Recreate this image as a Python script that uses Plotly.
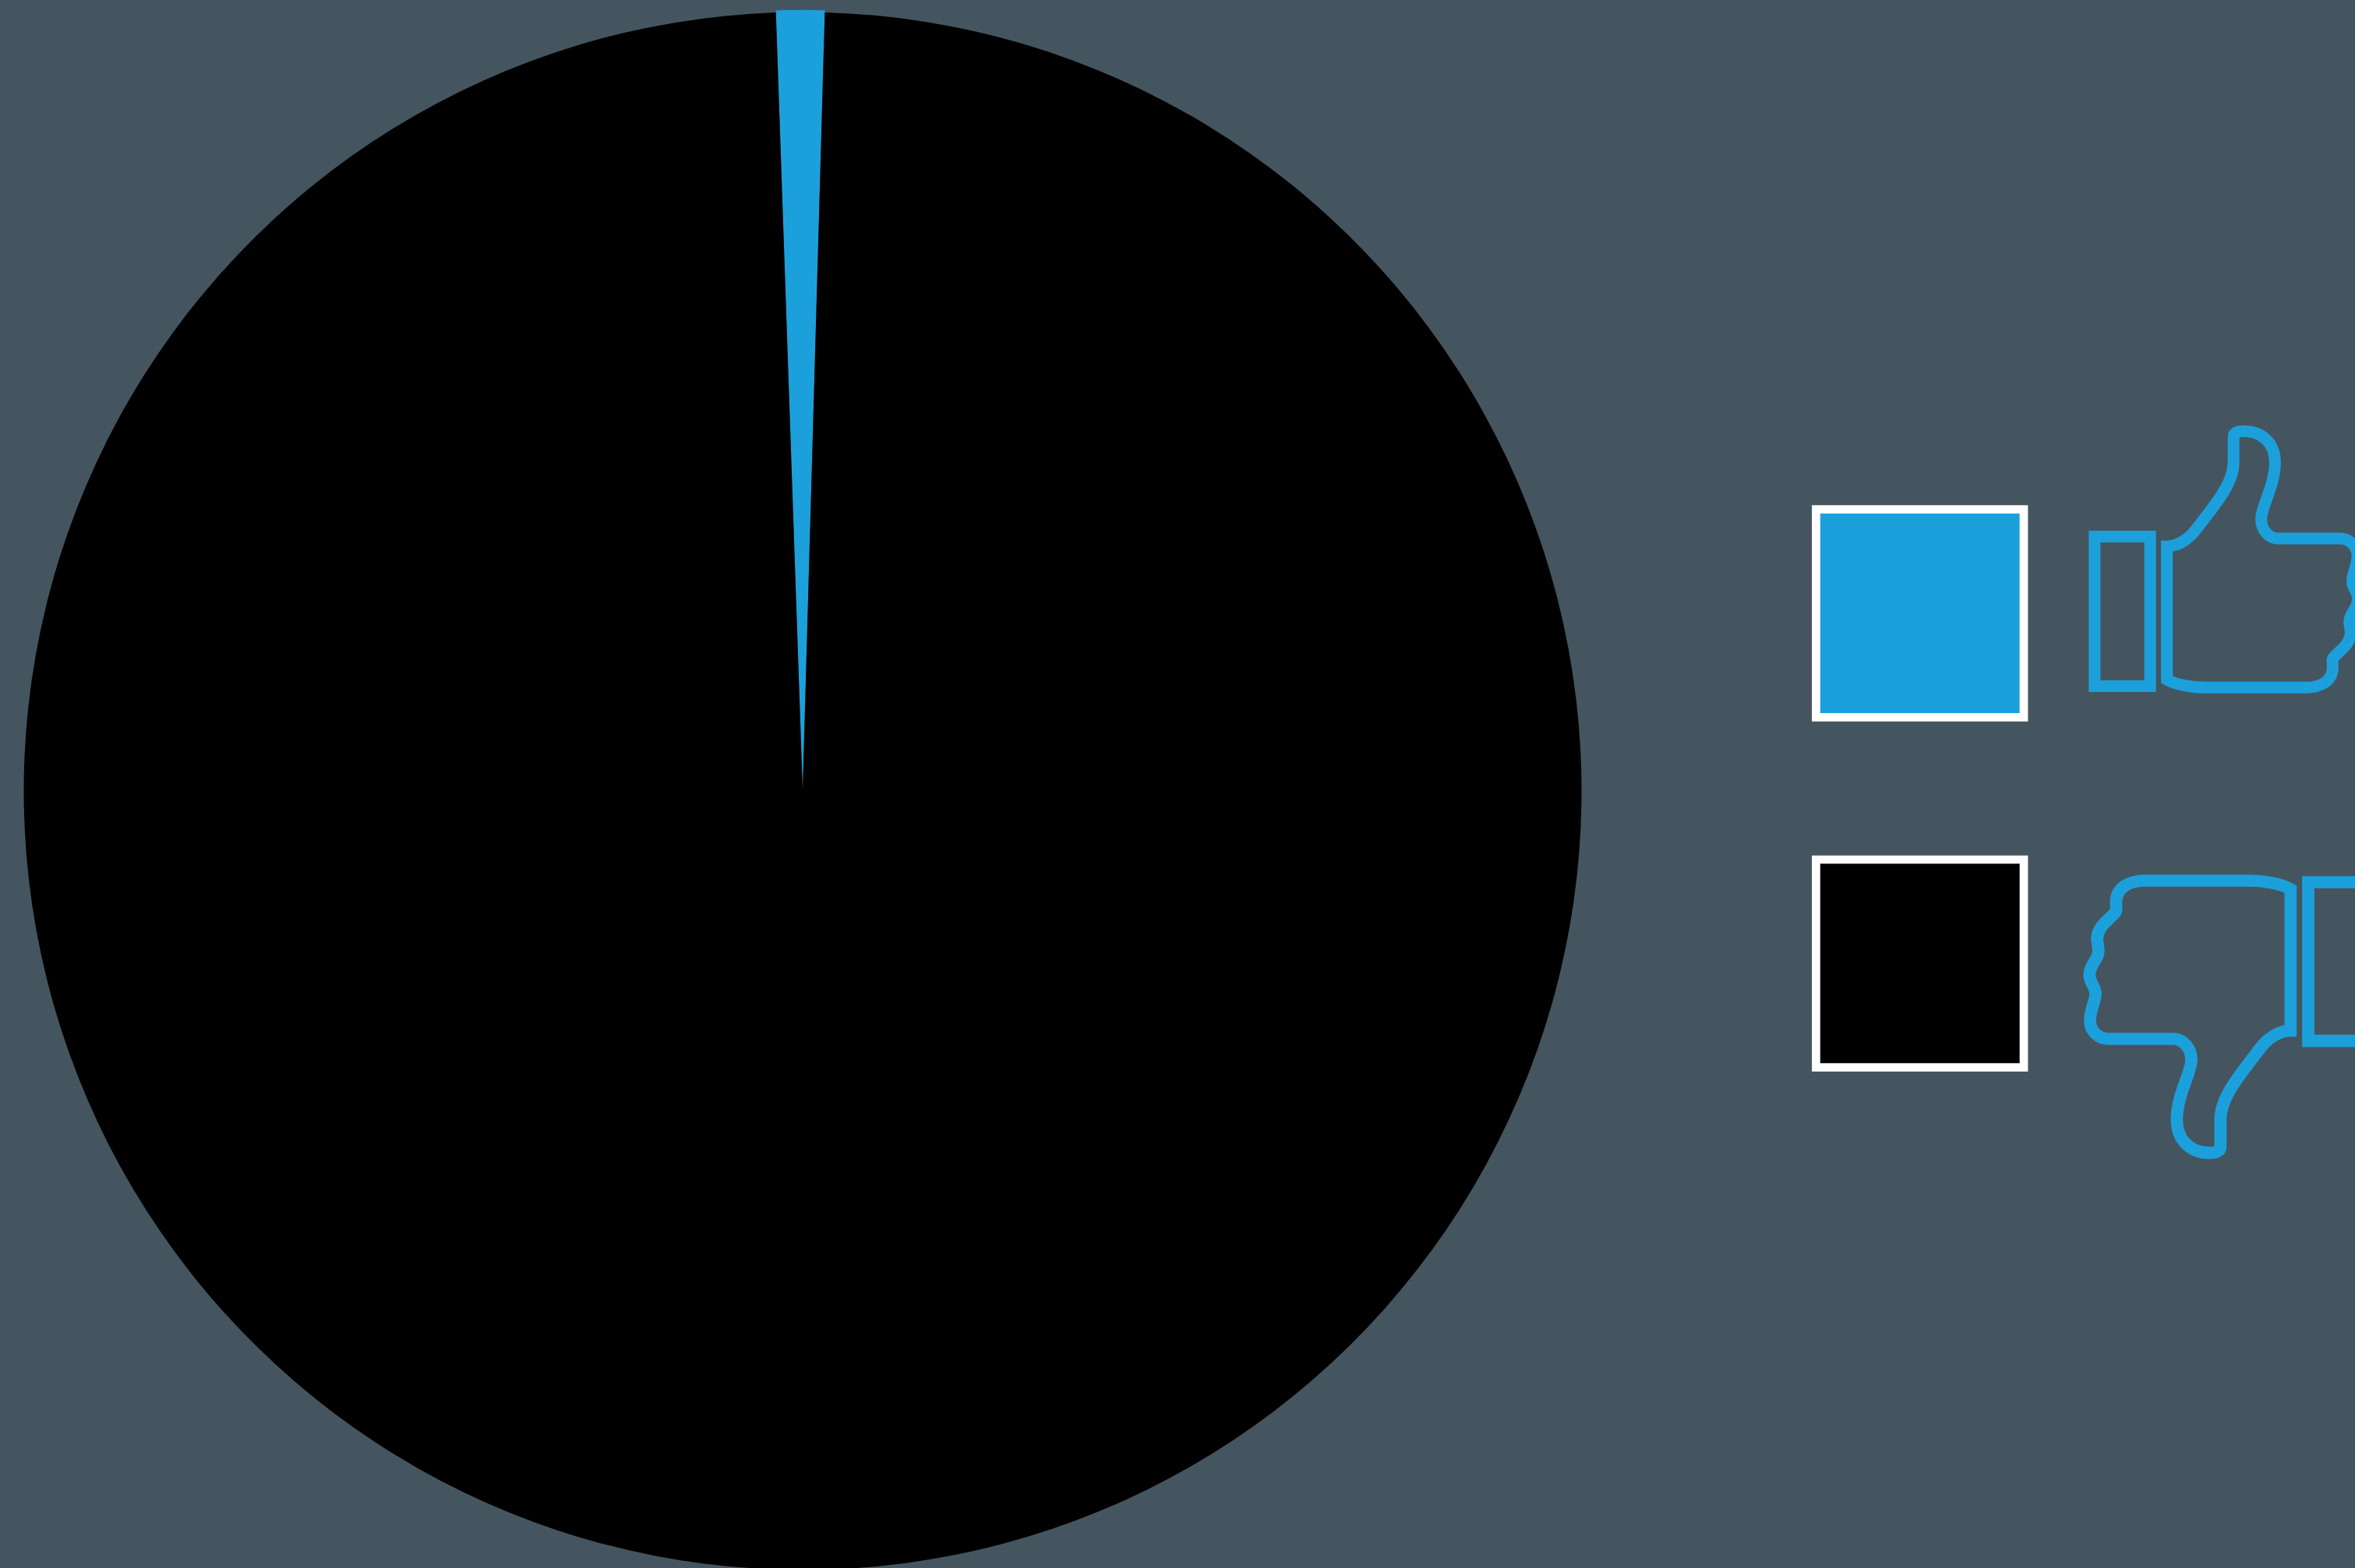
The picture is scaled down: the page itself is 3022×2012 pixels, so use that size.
import re
import plotly.graph_objects as go

# Share of votes
labels = ["Thumbs up", "Thumbs down"]
values = [1, 99]
slice_colors = ["#1ca0dc", "#000000"]

BG = "#45555f"
ICON = "#1ca0dc"
WIDTH, HEIGHT = 3022, 2030  # canvas runs a little past the fold so the pie can bleed off

# Pie placement in pixels
CX, CY, R = 1030.0, 1015.0, 999.5
PULL = 0.0027
R_OUT = R * (1 + PULL)


def px(x):
    return x / WIDTH


def py(y):
    return 1 - y / HEIGHT


# Hand outline of the thumbs-down glyph, drawn on a 3x grid
HAND = (
    "M898,153 C860,130 790,120 735,120 L340,120 C270,120 226,150 226,205 "
    "C226,222 230,230 225,240 C200,272 158,290 153,342 C153,360 160,375 158,395 "
    "C156,425 124,445 124,482 C124,515 147,525 147,555 C147,585 126,615 126,660 "
    "C126,700 160,729 197,729 L445,729 C485,729 516,765 516,810 C516,860 460,945 460,1040 "
    "C460,1125 520,1168 585,1168 C610,1168 628,1162 628,1145 L628,1040 "
    "C628,955 700,870 785,760 C812,725 858,697 898,697 Z"
)
CUFF = "M966,126 L1191,126 L1191,737 L966,737 Z"


def place(path, fn):
    """Map every coordinate pair of an SVG path through fn, into paper space."""
    def sub(m):
        x, y = fn(float(m.group(1)), float(m.group(2)))
        return f"{px(x):.6f},{py(y):.6f}"
    return re.sub(r"(-?[\d.]+),(-?[\d.]+)", sub, path)


def down(x, y):
    return 2640 + x / 3, 1090 + y / 3


def up(x, y):
    # the raised thumb is the same glyph turned half a circle and slightly smaller
    return 2640 + (1275 - 0.95 * x) / 3, 520 + (1200 - 0.942 * y) / 3


def icon(path, fn, lw):
    return dict(type="path", xref="paper", yref="paper", path=place(path, fn),
                line=dict(color=ICON, width=lw), fillcolor="rgba(0,0,0,0)")


def swatch(x0, y0, x1, y1, color):
    return dict(type="rect", xref="paper", yref="paper",
                x0=px(x0), x1=px(x1), y0=py(y0), y1=py(y1),
                line=dict(color="#ffffff", width=10.7), fillcolor=color)


fig = go.Figure(go.Pie(
    labels=labels,
    values=values,
    sort=False,
    direction="clockwise",
    rotation=-1.97,
    pull=[PULL, 0],
    textinfo="none",
    hoverinfo="label+percent",
    showlegend=False,
    marker=dict(colors=slice_colors, line=dict(width=0)),
    domain=dict(
        x=[px(CX - R_OUT), px(CX + R_OUT)],
        y=[py(CY + R_OUT), py(CY - R_OUT)],
    ),
))

fig.update_layout(
    width=WIDTH,
    height=HEIGHT,
    autosize=False,
    margin=dict(l=0, r=0, t=0, b=0),
    paper_bgcolor=BG,
    plot_bgcolor=BG,
    shapes=[
        swatch(2330.4, 653.7, 2597, 920.3, slice_colors[0]),
        swatch(2330.4, 1103.0, 2597, 1369.7, slice_colors[1]),
        icon(HAND, up, 15),
        icon(CUFF, up, 15),
        icon(HAND, down, 15.7),
        icon(CUFF, down, 15.7),
    ],
)

fig.write_html(
    "out.html",
    post_script="document.documentElement.style.overflow='hidden';document.body.style.overflow='hidden';",
)
